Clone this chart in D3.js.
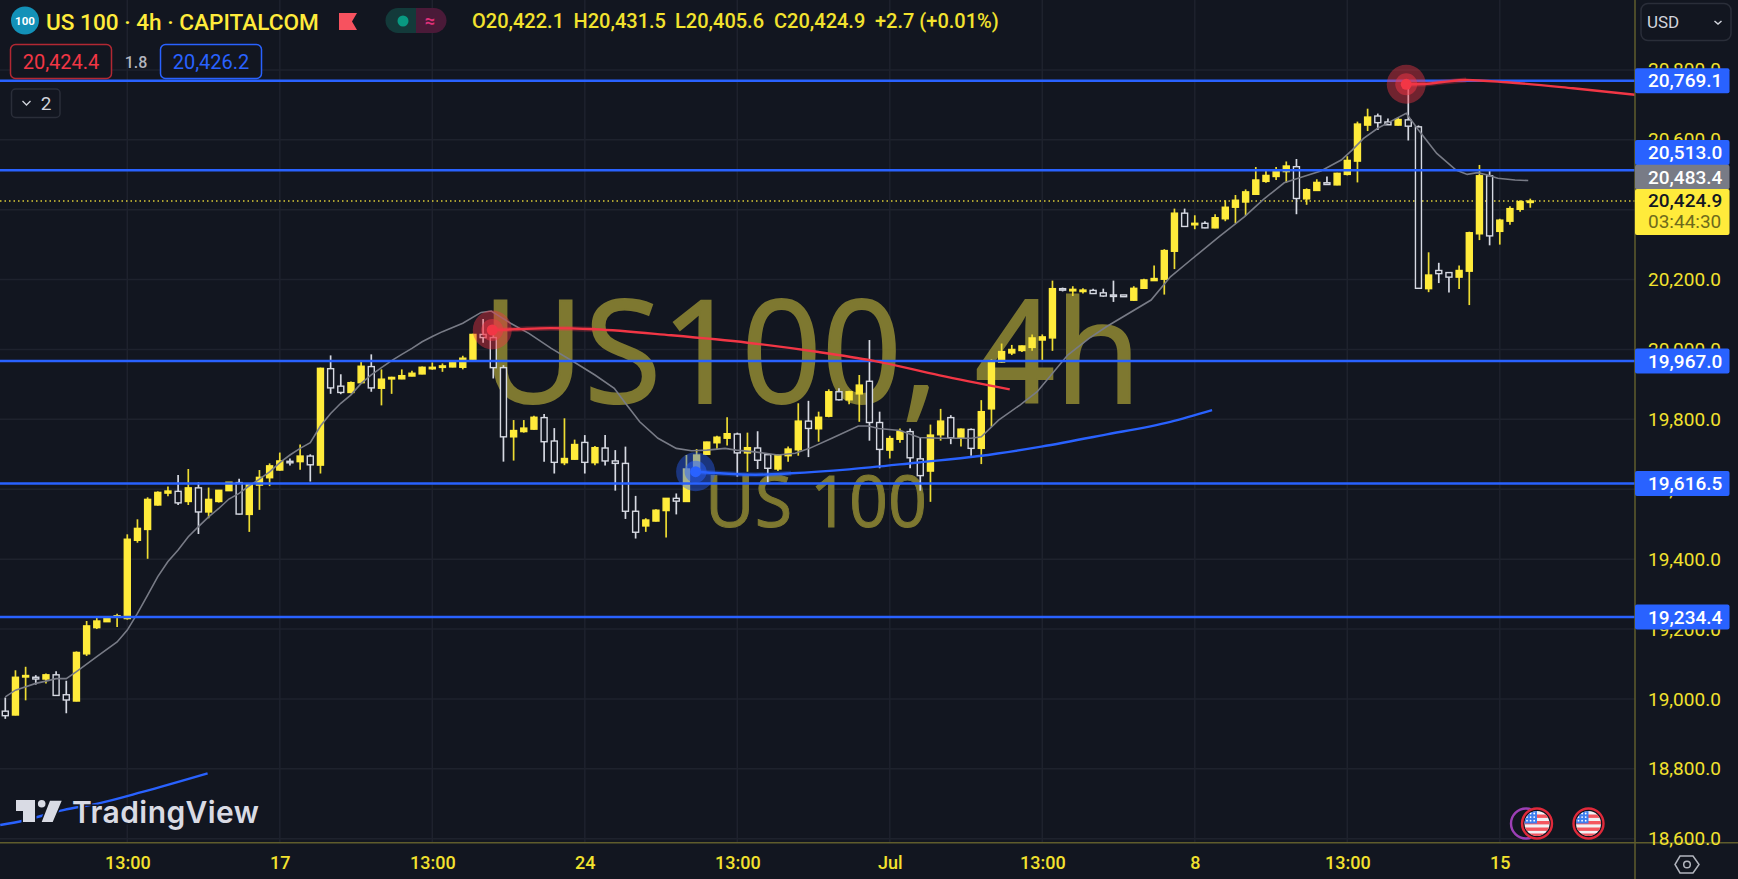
<!DOCTYPE html>
<html>
<head>
<meta charset="utf-8">
<script src="https://cdn.jsdelivr.net/npm/d3@7"></script>
<style>
html,body{margin:0;padding:0;background:#121620;overflow:hidden}
svg{display:block}
text{font-family:Roboto,sans-serif}
</style>
</head>
<body>
<svg id="c" width="1738" height="879"></svg>
<script>
const opens=[18965,18954,19063,19062,19057,19069,19012,18994,19129,19204,
19221,19236,19230,19454,19485,19555,19589,19594,19565,19604,
19535,19565,19596,19619,19528,19612,19633,19655,19680,19679,
19695,19669,19945,19895,19877,19905,19951,19889,19916,19916,
19924,19930,19946,19950,19950,19949,19972,20043,20034,19948,
19750,19765,19772,19805,19738,19676,19686,19734,19676,19718,
19681,19674,19537,19495,19509,19539,19574,19565,19655,19700,
19733,19746,19758,19704,19718,19699,19658,19696,19713,19795,
19773,19809,19879,19856,19873,19909,19791,19712,19743,19765,
19687,19652,19756,19805,19746,19771,19717,19830,19964,19990,
19997,20006,20027,20033,20174,20168,20167,20169,20162,20156,
20156,20141,20175,20197,20201,20281,20390,20357,20361,20348,
20374,20407,20422,20444,20481,20495,20509,20523,20431,20455,
20477,20471,20501,20539,20642,20668,20651,20642,20657,20637,
20174,20226,20220,20207,20224,20331,20497,20338,20367,20401,
20422.1];
const closes=[18952,19062,19067,19057,19069,19010,18997,19133,19209,19223,
19232,19238,19457,19488,19571,19591,19595,19561,19604,19535,
19571,19597,19620,19529,19615,19634,19667,19681,19678,19695,
19670,19946,19890,19877,19905,19952,19890,19915,19920,19925,
19932,19949,19949,19953,19962,19975,20043,20034,19948,19750,
19768,19775,19806,19736,19677,19688,19728,19677,19719,19681,
19674,19537,19477,19512,19540,19574,19566,19658,19698,19735,
19749,19759,19704,19719,19683,19660,19696,19715,19795,19774,
19806,19879,19856,19879,19898,19791,19714,19745,19765,19690,
19639,19755,19795,19747,19772,19717,19822,19966,19994,20000,
20010,20033,20036,20174,20170,20172,20170,20160,20153,20154,
20151,20175,20199,20203,20283,20390,20352,20361,20348,20377,
20407,20427,20451,20485,20498,20510,20525,20432,20457,20478,
20472,20504,20541,20645,20665,20649,20643,20658,20639,20175,
20213,20217,20207,20226,20334,20497,20325,20370,20403,20423,
20424.9];
const highs=[19004,19082,19092,19068,19073,19079,19052,19136,19223,19236,
19233,19244,19471,19514,19577,19594,19608,19641,19658,19620,
19605,19598,19621,19630,19617,19655,19674,19705,19688,19728,
19700,19948,19983,19929,19908,19969,19986,19943,19922,19943,
19939,19951,19963,19960,19963,19982,20045,20087,20049,19955,
19798,19798,19810,19815,19775,19803,19742,19755,19724,19755,
19712,19722,19581,19517,19543,19575,19588,19698,19715,19736,
19753,19806,19762,19762,19766,19703,19700,19722,19846,19853,
19822,19886,19889,19882,19927,20027,19822,19753,19774,19774,
19748,19785,19830,19812,19774,19774,19855,19972,20017,20013,
20011,20043,20043,20197,20177,20181,20175,20174,20174,20197,
20156,20181,20202,20240,20287,20403,20403,20384,20367,20387,
20427,20442,20458,20522,20515,20522,20538,20545,20461,20487,
20495,20506,20553,20652,20689,20675,20661,20664,20759,20641,
20278,20248,20221,20240,20337,20528,20511,20374,20410,20427,
20431.5];
const lows=[18943,18953,18996,19041,19044,19009,18959,18993,19123,19200,
19220,19206,19227,19447,19401,19553,19580,19555,19555,19472,
19517,19562,19595,19528,19478,19541,19609,19653,19668,19656,
19622,19645,19873,19872,19875,19903,19879,19840,19873,19915,
19923,19929,19942,19936,19949,19943,19970,20019,19917,19679,
19682,19762,19770,19679,19645,19669,19685,19645,19669,19668,
19596,19515,19459,19478,19508,19462,19528,19564,19653,19699,
19715,19725,19636,19650,19658,19619,19652,19679,19696,19692,
19736,19806,19854,19843,19793,19739,19660,19688,19733,19660,
19596,19564,19739,19729,19722,19696,19672,19779,19962,19984,
19993,19996,19967,19996,20166,20153,20160,20159,20151,20136,
20151,20139,20174,20196,20157,20230,20351,20344,20347,20347,
20367,20361,20382,20444,20477,20485,20477,20387,20414,20454,
20471,20470,20498,20478,20625,20628,20642,20641,20598,20174,
20164,20190,20163,20173,20127,20313,20298,20300,20357,20394,
20405.6];

const maBars=[0,1,3,4,5,6,7,9,11,12,13,14,15,16,17,18,19,20,21,22,23,24,25,26,27,28,29,30,31,32,33,34,35,36,37,38,39,40,41,42,43,44,45,46.8,47.8,49.7,51.5,53.7,55.9,58,59.9,61,62.4,64.2,66,67.5,69,70.8,71.9,73.7,76,77.7,79.1,81.3,83.9,84.9,85.9,88,89.9,92,95,96,97.7,99.8,101.5,104.5,106.6,108.3,112.7,114.6,116.6,119.4,121.9,123.7,125.8,127.4,129.4,131.4,132.5,133.6,135,135.9,137.8,139,140.8,142.7,143.8,144.8,145.8,146.8,148.5,149.8];
const maVals=[19006,19025,19044.5,19051,19058,19058,19078,19121,19163,19197,19245,19297,19350,19393,19426,19464,19493,19521,19545,19572,19588,19610,19629,19650,19676,19698,19717,19733,19781,19817,19846,19870,19903,19927,19948,19968,19986,20003,20022,20037,20051,20063,20075,20106,20110,20075,20046,20003,19965,19927,19889,19846,19793,19746,19717,19710,19712,19717,19712,19707,19698,19703,19717,19746,19781,19781,19774,19768,19748,19746,19746,19750,19798,19841,19879,19984,20032,20065,20141.4,20208,20256,20323,20380,20428,20477,20492,20511,20542,20571,20604,20633,20647,20676,20628,20561,20513.5,20501,20506,20499,20490,20485,20483.4];

const redABars=[47.9,50.1,53.6,58,65.5,73,80,85.3,91.9,98.8];
const redAVals=[20055.7,20057.7,20061,20057.7,20040.5,20019.4,19992.7,19968,19926,19886];
const blueABars=[67.9,70.3,73.8,77.3,83,89.6,95.8,101.9,108,114.6,118.7];
const blueAVals=[19650.2,19645.6,19641.6,19645.6,19657,19676,19695,19722,19755,19793,19826.7];
const redBBars=[137.8,139.4,141.2,143.7,147.7,154.2,160.3];
const redBVals=[20758.8,20759.7,20764.5,20771,20764.5,20747.4,20729];
const blueBBars=[-0.5,1.74,5.7,9.3,13.5,19.9];
const blueBVals=[18639.2,18651.5,18682,18702,18734,18787];

const levels=[20769.1,20513.0,19967.0,19616.5,19234.4];
const priceTicks=[18600,18800,19000,19200,19400,19600,19800,20000,20200,20400,20600,20800];
const timeBars=[12,27,42,57,72,87,102,117,132,147];
const timeLabels=["13:00","17","13:00","24","13:00","Jul","13:00","8","13:00","15"];
const headerOHLC=["O20,422.1","H20,431.5","L20,405.6","C20,424.9","+2.7 (+0.01%)"];
const ma=20483.4, last=20424.9;

const BG="#121620",GRID="#1e222d",AXIS="#5f5c2c",YEL="#ffeb3b",WHT="#d6d9e2",BLUE="#2962ff",RED="#f23645",TICK="#f2e22e",WM="#7e7830";
const W=1635,H=842.7;
const svg=d3.select("#c");
const x=d3.scaleLinear().domain([-0.52,160.3]).range([0,W]);
const y=d3.scaleLinear().domain([21000,18588.6]).range([0,H]);

svg.append("rect").attr("width",1738).attr("height",879).attr("fill",BG);

// grid
const grid=svg.append("g").attr("stroke",GRID).attr("stroke-width",1.5);
grid.selectAll("line.h").data(priceTicks).join("line").attr("x1",0).attr("x2",W).attr("y1",d=>y(d)).attr("y2",d=>y(d));
grid.selectAll("line.v").data(timeBars).join("line").attr("y1",0).attr("y2",H).attr("x1",d=>x(d)).attr("x2",d=>x(d));

// watermark
svg.append("text").attr("x",482).attr("y",403).attr("font-size",143).attr("fill",WM).attr("stroke",WM).attr("stroke-width",2)
  .attr("textLength",659).attr("lengthAdjust","spacingAndGlyphs").attr("style","font-family:'Open Sans'").text("US100, 4h");
svg.append("text").attr("x",705).attr("y",527).attr("font-size",72).attr("fill",WM).attr("stroke",WM).attr("stroke-width",1)
  .attr("textLength",222).attr("lengthAdjust","spacingAndGlyphs").attr("style","font-family:'Open Sans'").text("US 100");

// dotted last price
svg.append("line").attr("x1",0).attr("x2",W).attr("y1",y(last)).attr("y2",y(last)).attr("stroke",YEL).attr("stroke-width",1.3).attr("stroke-dasharray","1.5 3").attr("opacity",.85);

// candles
const idx=d3.range(opens.length);
const cg=svg.append("g");
const up=i=>closes[i]>=opens[i];
cg.selectAll("line").data(idx).join("line")
 .attr("x1",i=>x(i)).attr("x2",i=>x(i)).attr("y1",i=>y(highs[i])).attr("y2",i=>y(lows[i]))
 .attr("stroke",i=>up(i)?"#eedc32":WHT).attr("stroke-width",1.7);
cg.selectAll("rect").data(idx).join("rect")
 .attr("x",i=>x(i)-3).attr("width",6)
 .attr("y",i=>y(Math.max(opens[i],closes[i])))
 .attr("height",i=>Math.max(1.5,Math.abs(y(opens[i])-y(closes[i]))))
 .attr("fill",i=>up(i)?YEL:BG).attr("stroke",i=>up(i)?YEL:WHT).attr("stroke-width",1.4);

// lines
const curve=d3.line().x(d=>x(d[0])).y(d=>y(d[1])).curve(d3.curveMonotoneX);
const zip=(a,b)=>a.map((v,i)=>[v,b[i]]);
svg.append("path").attr("d",d3.line().x(d=>x(d[0])).y(d=>y(d[1]))(zip(maBars,maVals))).attr("fill","none").attr("stroke","#787b86").attr("stroke-width",1.6);

// horizontal levels
svg.append("g").selectAll("line").data(levels).join("line").attr("x1",0).attr("x2",W).attr("y1",d=>y(d)).attr("y2",d=>y(d)).attr("stroke",BLUE).attr("stroke-width",2.5);

function trend(bars,vals,col){
  svg.append("path").attr("d",curve(zip(bars,vals))).attr("fill","none").attr("stroke",col).attr("stroke-width",2.4);
}
function tail(bars,vals,col){
  svg.append("path").attr("d",curve(zip(bars,vals).slice(0,4))).attr("fill","none").attr("stroke",col).attr("stroke-width",5).attr("opacity",.3);
}
function dot(b,v,col){
  const g=svg.append("g").attr("transform",`translate(${x(b)},${y(v)})`);
  g.append("circle").attr("r",19.5).attr("fill",col).attr("opacity",.42);
  g.append("circle").attr("r",11).attr("fill",col).attr("opacity",.5);
  g.append("circle").attr("r",5.5).attr("fill",col);
}
trend(blueBBars,blueBVals,BLUE);
trend(redABars,redAVals,RED);tail(redABars,redAVals,RED);dot(redABars[0],redAVals[0],RED);
trend(blueABars,blueAVals,BLUE);tail(blueABars,blueAVals,BLUE);dot(blueABars[0],blueAVals[0],BLUE);
trend(redBBars,redBVals,RED);tail(redBBars,redBVals,RED);dot(redBBars[0],redBVals[0],RED);

// TradingView logo
const tv=svg.append("g");
tv.append("path").attr("d","M16 800H35V822H23V811H16Z M50 800.7H61.7L52.7 822H41.7Z").attr("fill","#d9dbe4").attr("stroke",BG).attr("stroke-width",3).attr("paint-order","stroke");
tv.append("circle").attr("cx",41.7).attr("cy",803.8).attr("r",3.8).attr("fill","#d9dbe4");
tv.append("text").attr("x",72).attr("y",822.5).attr("font-size",30).attr("font-weight",600).attr("fill","#d9dbe4").attr("stroke",BG).attr("stroke-width",3).attr("paint-order","stroke").attr("style","font-family:Inter").attr("textLength",187).text("TradingView");

// flags
function flag(cx,cy){
  const id="f"+cx;
  svg.append("clipPath").attr("id",id).append("circle").attr("cx",cx).attr("cy",cy).attr("r",12.5);
  const g=svg.append("g").attr("clip-path",`url(#${id})`);
  g.append("rect").attr("x",cx-14).attr("y",cy-14).attr("width",28).attr("height",28).attr("fill","#f2f2f4");
  [-9,-2.5,4,10].forEach(d=>g.append("rect").attr("x",cx-14).attr("y",cy+d).attr("width",28).attr("height",3.4).attr("fill","#f4565f"));
  g.append("rect").attr("x",cx-14).attr("y",cy-14).attr("width",14).attr("height",14).attr("fill","#3d7ff0");
  d3.range(3).forEach(r=>d3.range(3).forEach(c=>g.append("circle").attr("cx",cx-10+c*3.6).attr("cy",cy-10+r*3.6).attr("r",.9).attr("fill","#fff")));
  svg.append("circle").attr("cx",cx).attr("cy",cy).attr("r",15).attr("fill","none").attr("stroke","#e0293a").attr("stroke-width",2.4);
}
svg.append("circle").attr("cx",1526).attr("cy",823.5).attr("r",15).attr("fill",BG).attr("stroke","#9c3fb5").attr("stroke-width",2.4);
svg.append("circle").attr("cx",1537).attr("cy",823.5).attr("r",16).attr("fill",BG);
flag(1537,823.5);flag(1588.5,823.5);

// scale panels
svg.append("rect").attr("x",W).attr("y",0).attr("width",1738-W).attr("height",879).attr("fill",BG);
svg.append("rect").attr("x",0).attr("y",H).attr("width",1738).attr("height",879-H).attr("fill",BG);
svg.append("line").attr("x1",W).attr("x2",W).attr("y1",0).attr("y2",879).attr("stroke",AXIS).attr("stroke-width",1.5);
svg.append("line").attr("x1",0).attr("x2",1738).attr("y1",H).attr("y2",H).attr("stroke",AXIS).attr("stroke-width",1.5);

const yAxis=d3.axisRight(y).tickValues(priceTicks).tickSize(0).tickPadding(0).tickFormat(d3.format(",.1f"));
const gy=svg.append("g").attr("transform",`translate(${W+13},0)`).call(yAxis);
gy.select(".domain").remove();
gy.selectAll("text").attr("fill",TICK).attr("font-size",19).attr("font-family","Roboto");

const xAxis=d3.axisBottom(x).tickValues(timeBars).tickSize(0).tickPadding(0).tickFormat((d,i)=>timeLabels[i]);
const gx=svg.append("g").attr("transform",`translate(0,${H+14})`).call(xAxis);
gx.select(".domain").remove();
gx.selectAll("text").attr("fill",TICK).attr("font-size",18).attr("font-weight",500).attr("font-family","Roboto");

// price tags
const fmt=d3.format(",.1f");
function tag(py,h,fill,fg,txt){
  svg.append("rect").attr("x",W).attr("y",py-h/2).attr("width",94.5).attr("height",h).attr("rx",2).attr("fill",fill);
  svg.append("text").attr("x",1648).attr("y",py+6.8).attr("font-size",19).attr("font-weight",500).attr("fill",fg).text(txt);
}
// labels are nudged apart on the axis the way the original does: tag centre per level
const tagNudge={20513:-17.8};
levels.forEach(v=>tag(y(v)+(tagNudge[v]||0),25,BLUE,"#fff",fmt(v)));
tag(y(ma)-3.5,24.5,"#787b86","#fff",fmt(ma));
svg.append("rect").attr("x",W).attr("y",189).attr("width",94.5).attr("height",46).attr("rx",2).attr("fill",YEL);
svg.append("text").attr("x",1648).attr("y",206.8).attr("font-size",19).attr("font-weight",500).attr("fill","#131722").text(fmt(last));
svg.append("text").attr("x",1648).attr("y",228).attr("font-size",19).attr("fill","#6e6a1c").text("03:44:30");

// USD box
svg.append("rect").attr("x",1641).attr("y",3.5).attr("width",90).attr("height",37).attr("rx",7).attr("fill","none").attr("stroke","#2a2e39").attr("stroke-width",1.5);
svg.append("text").attr("x",1647).attr("y",28).attr("font-size",17).attr("fill","#d1d4dc").text("USD");
svg.append("path").attr("d","M1714.5 21l3.5 3 3.5-3").attr("fill","none").attr("stroke","#d1d4dc").attr("stroke-width",1.5);

// settings hexagon
svg.append("path").attr("d","M1680 856H1693L1699 864.500L1693 873H1680L1675 864.500Z").attr("fill","none").attr("stroke","#b2b5be").attr("stroke-width",1.5);
svg.append("circle").attr("cx",1687).attr("cy",864.5).attr("r",3.3).attr("fill","none").attr("stroke","#b2b5be").attr("stroke-width",1.5);

// header
svg.append("circle").attr("cx",25).attr("cy",20.5).attr("r",14).attr("fill","#1391b8");
svg.append("text").attr("x",25).attr("y",24.5).attr("text-anchor","middle").attr("font-size",11.5).attr("font-weight",700).attr("fill","#fff").text("100");
svg.append("text").attr("x",46).attr("y",29.5).attr("font-size",22.6).attr("font-weight",500).attr("fill",YEL).text("US 100 · 4h · CAPITALCOM");
svg.append("path").attr("d","M339 13H357L352 21.500L357 30H339Z").attr("fill","#f7525f");
svg.append("path").attr("d","M416 8H398a12.500 12.500 0 0 0 0 25H416Z").attr("fill","#133a3a");
svg.append("path").attr("d","M416 8H434a12.500 12.500 0 0 1 0 25H416Z").attr("fill","#4a1a38");
svg.append("circle").attr("cx",403).attr("cy",21).attr("r",5.5).attr("fill","#089981");
svg.append("text").attr("x",430).attr("y",27).attr("text-anchor","middle").attr("font-size",18).attr("font-weight",700).attr("fill","#e0307a").text("≈");
const ohlcX=[472,573.5,675,774,875];
svg.append("g").selectAll("text").data(headerOHLC).join("text").attr("x",(d,i)=>ohlcX[i]).attr("y",27.5).attr("font-size",20).attr("font-weight",500).attr("fill",TICK).text(d=>d);

svg.append("rect").attr("x",10.5).attr("y",44.5).attr("width",101).attr("height",34).attr("rx",5).attr("fill",BG).attr("stroke","#b22833").attr("stroke-width",1.5);
svg.append("text").attr("x",61).attr("y",68.5).attr("text-anchor","middle").attr("font-size",20).attr("fill",RED).text("20,424.4");
svg.append("text").attr("x",136).attr("y",68).attr("text-anchor","middle").attr("font-size",16).attr("font-weight",500).attr("fill","#b2b5be").text("1.8");
svg.append("rect").attr("x",160.5).attr("y",44.5).attr("width",101).attr("height",34).attr("rx",5).attr("fill",BG).attr("stroke",BLUE).attr("stroke-width",1.5);
svg.append("text").attr("x",211).attr("y",68.5).attr("text-anchor","middle").attr("font-size",20).attr("fill",BLUE).text("20,426.2");
svg.append("rect").attr("x",11.500).attr("y",89).attr("width",48.500).attr("height",28.500).attr("rx",4).attr("fill",BG).attr("stroke","#2a2e39").attr("stroke-width",1.5);
svg.append("path").attr("d","M22.500 101l4 4 4-4").attr("fill","none").attr("stroke","#d1d4dc").attr("stroke-width",1.3);
svg.append("text").attr("x",46).attr("y",110).attr("text-anchor","middle").attr("font-size",19).attr("fill","#d1d4dc").text("2");
</script>
</body>
</html>
